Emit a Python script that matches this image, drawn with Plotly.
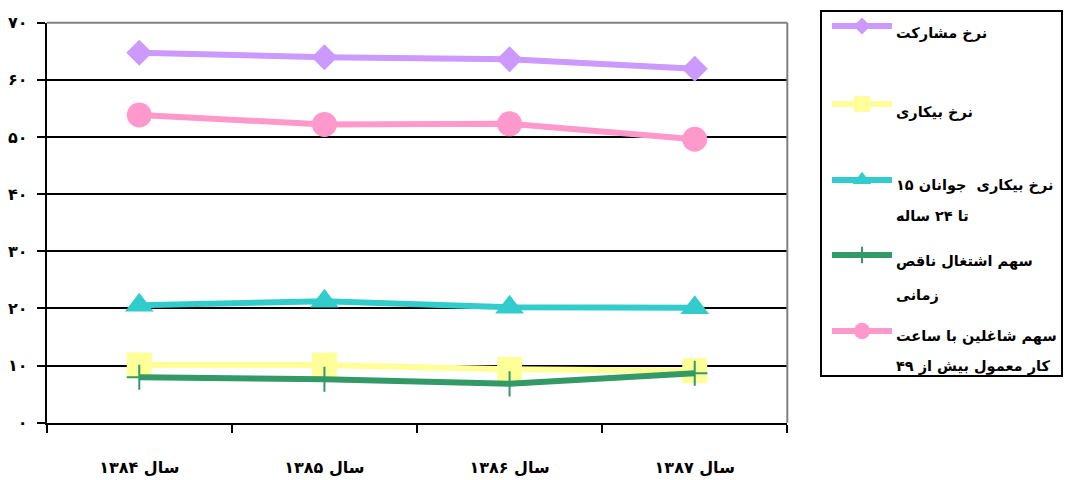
import plotly.graph_objects as go

# ---------------- data ----------------
years = ["سال ۱۳۸۴", "سال ۱۳۸۵", "سال ۱۳۸۶", "سال ۱۳۸۷"]
participation = [64.75, 63.95, 63.6, 61.95]          # نرخ مشارکت
unemployment = [10.1, 10.1, 9.35, 9.1]                # نرخ بیکاری
youth_unemployment = [20.55, 21.25, 20.2, 20.1]      # نرخ بیکاری جوانان ۱۵ تا ۲۴ ساله
underemployment = [7.95, 7.6, 6.8, 8.65]             # سهم اشتغال ناقص زمانی
long_hours = [53.85, 52.2, 52.3, 49.6]               # سهم شاغلین با ساعت کار معمول بیش از ۴۹

y_tickvals = [0, 10, 20, 30, 40, 50, 60, 70]
y_ticktext = ["۰", "۱۰", "۲۰", "۳۰", "۴۰", "۵۰", "۶۰", "۷۰"]

series_names = [
    ["نرخ مشارکت"],
    ["نرخ بیکاری"],
    ["نرخ بیکاری  جوانان ۱۵", "تا ۲۴ ساله"],
    ["سهم اشتغال ناقص", "زمانی"],
    ["سهم شاغلین با ساعت", "کار معمول بیش از ۴۹"],
]
series_values = [participation, unemployment, youth_unemployment, underemployment, long_hours]

# ---------------- styles ----------------
colors = ["#CC99FF", "#FFFF99", "#33CCCC", "#339966", "#FF99CC"]
symbols = ["diamond", "square", "triangle-up", "cross-thin", "circle"]
msizes = [20, 25, 25, 18, 25]

W, H = 1065, 480
FONT = dict(family="DejaVu Sans", size=14, color="black", weight="bold")

# plot area in pixels
PL, PR, PT, PB = 46.7, 787.3, 22.7, 422.7

fig = go.Figure()

for name, vals, c, s, ms in zip(series_names, series_values, colors, symbols, msizes):
    if s == "cross-thin":
        marker = dict(symbol=s, size=ms, color=c, line=dict(color=c, width=2))
    else:
        marker = dict(symbol=s, size=ms, color=c, line=dict(width=0))
    fig.add_trace(go.Scatter(
        x=years, y=vals, mode="lines+markers", name=" ".join(name),
        line=dict(color=c, width=6), marker=marker,
        xaxis="x", yaxis="y", showlegend=False, cliponaxis=False,
    ))

# manual legend (pixel-space overlay axes)
leg_y = [26, 104, 180, 255, 331]
text_y = [[33], [112], [185, 216], [261, 295], [336, 366]]
for i, (name, c, s, ms) in enumerate(zip(series_names, colors, symbols, msizes)):
    ly = leg_y[i]
    fig.add_trace(go.Scatter(
        x=[832, 892], y=[ly, ly], mode="lines",
        line=dict(color=c, width=6), xaxis="x2", yaxis="y2",
        showlegend=False, hoverinfo="skip",
    ))
    if s == "cross-thin":
        marker = dict(symbol=s, size=ms * 0.65, color=c, line=dict(color=c, width=2))
    else:
        marker = dict(symbol=s, size=ms * 0.65, color=c, line=dict(width=0))
    fig.add_trace(go.Scatter(
        x=[862], y=[ly], mode="markers", marker=marker,
        xaxis="x2", yaxis="y2", showlegend=False, hoverinfo="skip",
    ))
    for line_txt, ty in zip(name, text_y[i]):
        fig.add_annotation(
            x=894, y=ty, xref="x2", yref="y2", text=line_txt, showarrow=False,
            xanchor="left", yanchor="middle", font=dict(FONT, size=14.5),
        )

# legend box
fig.add_shape(type="rect", xref="x2", yref="y2", x0=821, x1=1062, y0=11, y1=376,
              line=dict(color="black", width=2), fillcolor="rgba(0,0,0,0)")

# gray top/right border of plot area
fig.add_shape(type="line", xref="x domain", yref="y domain", x0=0, x1=1, y0=1, y1=1,
              line=dict(color="#808080", width=2))
fig.add_shape(type="line", xref="x domain", yref="y domain", x0=1, x1=1, y0=0, y1=1,
              line=dict(color="#808080", width=2))

fig.update_layout(
    width=W, height=H, autosize=False,
    margin=dict(l=0, r=0, t=0, b=0),
    paper_bgcolor="white", plot_bgcolor="rgba(0,0,0,0)",
    font=FONT,
    showlegend=False,
    xaxis=dict(
        domain=[PL / W, PR / W], type="category", categoryorder="array", categoryarray=years,
        range=[-0.5, 3.5], tickson="boundaries", ticks="outside", ticklen=8, tickwidth=2,
        tickcolor="black", showline=True, linecolor="black", linewidth=2,
        showgrid=False, zeroline=False, ticklabelstandoff=29, tickfont=dict(FONT, size=16),
        automargin=False, fixedrange=True,
    ),
    yaxis=dict(
        domain=[(H - PB) / H, (H - PT) / H], range=[0, 70],
        tickmode="array", tickvals=y_tickvals, ticktext=y_ticktext,
        ticks="outside", ticklen=8, tickwidth=2, tickcolor="black",
        showline=True, linecolor="black", linewidth=2,
        showgrid=True, gridcolor="black", gridwidth=2, zeroline=False,
        ticklabelstandoff=6, tickfont=dict(FONT, size=16), automargin=False, fixedrange=True,
    ),
    xaxis2=dict(domain=[0, 1], range=[0, W], visible=False, fixedrange=True, anchor="y2"),
    yaxis2=dict(domain=[0, 1], range=[H, 0], visible=False, fixedrange=True, anchor="x2"),
)

fig.write_html(
    "out.html",
    config={"displayModeBar": False, "staticPlot": True},
    post_script="document.body.style.margin='0px';document.body.style.overflow='hidden';",
)
